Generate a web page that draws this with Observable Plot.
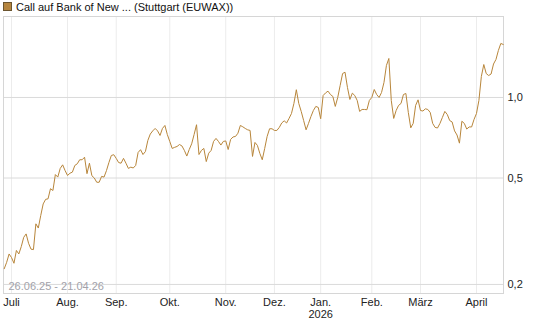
<!DOCTYPE html>
<html>
<head>
<meta charset="utf-8">
<script src="https://cdn.jsdelivr.net/npm/d3@7"></script>
<script src="https://cdn.jsdelivr.net/npm/@observablehq/plot@0.6"></script>
<style>
  html, body { margin: 0; padding: 0; background: #fff; }
  body { width: 545px; height: 327px; overflow: hidden; font-family: "Liberation Sans", Arial, sans-serif; }
  #title { height: 14px; line-height: 14px; font-size: 11px; color: #111; white-space: nowrap; position: relative; }
  #title .sw { position: absolute; left: 3px; top: 2px; width: 7px; height: 7px; background: #b5853f; border: 1px solid #6b5530; }
  #title .tx { position: absolute; left: 16px; top: 0px; }
</style>
</head>
<body>
<div id="title"><span class="sw"></span><span class="tx"></span></div>
<div id="chart"></div>
<script>
const titleText = "Call auf Bank of New ... (Stuttgart (EUWAX))";
const dateRange = "26.06.25 - 21.04.26";

// trading-day series (one value per trading day, 26.06.25 ... 21.04.26)
const values = [
 0.229,0.242,0.260,0.252,0.240,0.268,0.260,0.277,0.300,0.309,
 0.285,0.271,0.270,0.337,0.325,0.362,0.400,0.416,0.418,0.456,
 0.449,0.515,0.504,0.543,0.560,0.533,0.511,0.521,0.526,0.557,
 0.565,0.585,0.585,0.598,0.519,0.568,0.510,0.500,0.482,0.482,
 0.507,0.504,0.533,0.571,0.607,0.611,0.592,0.571,0.568,0.592,
 0.568,0.543,0.549,0.545,0.557,0.623,0.638,0.612,0.628,0.691,
 0.730,0.750,0.766,0.750,0.721,0.766,0.786,0.727,0.685,0.645,
 0.651,0.656,0.667,0.659,0.634,0.604,0.639,0.671,0.727,0.791,
 0.612,0.634,0.645,0.576,0.619,0.634,0.685,0.703,0.685,0.664,
 0.685,0.688,0.639,0.697,0.712,0.715,0.735,0.786,0.777,0.766,
 0.757,0.753,0.602,0.679,0.662,0.618,0.585,0.645,0.715,0.764,
 0.764,0.753,0.753,0.773,0.803,0.818,0.803,0.835,0.871,0.950,
 1.069,0.950,0.887,0.820,0.757,0.800,0.849,0.894,0.926,0.918,
 0.833,1.017,1.040,1.056,1.026,1.009,0.926,1.000,1.109,1.229,
 1.243,1.090,0.983,1.038,1.017,0.975,0.887,0.902,0.902,0.900,
 0.975,1.000,1.071,1.026,1.000,1.044,1.138,1.317,1.399,0.975,
 0.835,0.894,0.934,0.950,1.026,1.035,0.879,0.770,0.800,0.934,
 0.980,0.894,0.890,0.907,0.902,0.879,0.800,0.773,0.769,0.800,
 0.842,0.887,0.864,0.820,0.810,0.750,0.724,0.675,0.815,0.800,
 0.762,0.776,0.776,0.828,0.871,0.975,1.198,1.328,1.229,1.208,
 1.224,1.334,1.387,1.499,1.592,1.578
];

// first trading day of each month (index into values)
const monthTicks = [3, 26, 46, 68, 91, 111, 130, 151, 171, 194];
const monthLabels = ["Juli", "Aug.", "Sep.", "Okt.", "Nov.", "Dez.", "Jan.\n2026", "Feb.", "März", "April"];
const yTicks = [0.2, 0.5, 1.0];
const yLabels = ["0,2", "0,5", "1,0"];

document.querySelector("#title .tx").textContent = titleText;

const chart = Plot.plot({
  width: 545,
  height: 313,
  marginTop: 2,
  marginBottom: 34,
  marginLeft: 3,
  marginRight: 42,
  style: { fontFamily: "'Liberation Sans', Arial, sans-serif", fontSize: "11px", color: "#222", background: "#fff" },
  x: { domain: [-0.3, 205.1] },
  y: { type: "log", domain: [0.185, 2.008] },
  marks: [
    Plot.ruleX(monthTicks, { stroke: "#ececec", strokeWidth: 1 }),
    Plot.ruleY(yTicks, { stroke: "#dadada", strokeWidth: 1 }),
    Plot.frame({ stroke: "#d6d6d6" }),
    Plot.text([dateRange], { frameAnchor: "bottom-left", textAnchor: "start", lineAnchor: "middle", dx: 5, dy: -7, fill: "#a2a2aa", fontSize: 11 }),
    Plot.lineY(values, { x: (d, i) => i, y: d => d, stroke: "#b8863b", strokeWidth: 1 }),
    Plot.axisY(yTicks, { anchor: "right", tickSize: 0, tickPadding: 4, tickFormat: (d, i) => yLabels[yTicks.indexOf(d)], fill: "#222", fontSize: 11, label: null }),
    Plot.axisX(monthTicks, { anchor: "bottom", tickSize: 0, tickPadding: 4, tickFormat: (d) => monthLabels[monthTicks.indexOf(d)], fill: "#222", fontSize: 11, lineHeight: 1.1, label: null })
  ]
});
document.getElementById("chart").appendChild(chart);
</script>
</body>
</html>
